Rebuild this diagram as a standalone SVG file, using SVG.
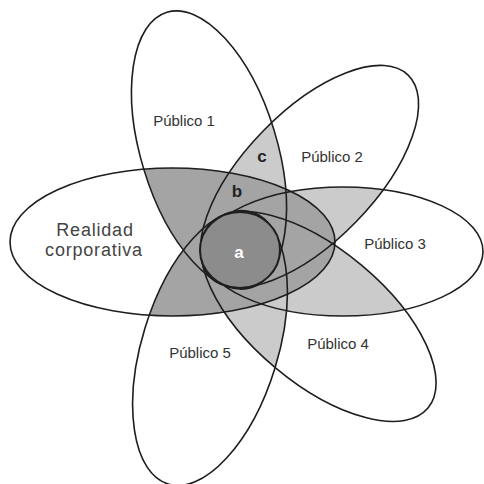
<svg xmlns="http://www.w3.org/2000/svg" width="484" height="484" viewBox="0 0 484 484">
<style>
.o{fill:none;stroke:#1e1e1e;stroke-width:1.6}
.lt{fill:#cbcbcb}
.dk{fill:#a4a4a4}
.lbl{font-family:"Liberation Sans",Arial,sans-serif;font-size:15px;fill:#333;text-anchor:middle}
.big{font-family:"Liberation Sans",Arial,sans-serif;font-size:18px;letter-spacing:0.8px;fill:#444;text-anchor:middle}
.let{font-family:"Liberation Sans",Arial,sans-serif;font-size:17px;font-weight:bold;fill:#222;text-anchor:middle}
</style>
<defs>
<ellipse id="P1" cx="209" cy="150" rx="144" ry="68" transform="rotate(73 209 150)"/>
<ellipse id="P2" cx="309.5" cy="176.5" rx="141.5" ry="65" transform="rotate(-45.8 309.5 176.5)"/>
<ellipse id="P3" cx="343" cy="251.5" rx="140" ry="64.5"/>
<ellipse id="P4" cx="318.5" cy="316.5" rx="142.7" ry="67" transform="rotate(39.9 318.5 316.5)"/>
<ellipse id="P5" cx="210" cy="348" rx="142.3" ry="68" transform="rotate(-72.9 210 348)"/>
<ellipse id="R" cx="172.5" cy="242" rx="162.5" ry="74"/>
<clipPath id="cAll">
<ellipse cx="209" cy="150" rx="144" ry="68" transform="rotate(73 209 150)"/>
<ellipse cx="309.5" cy="176.5" rx="141.5" ry="65" transform="rotate(-45.8 309.5 176.5)"/>
<ellipse cx="343" cy="251.5" rx="140" ry="64.5"/>
<ellipse cx="318.5" cy="316.5" rx="142.7" ry="67" transform="rotate(39.9 318.5 316.5)"/>
<ellipse cx="210" cy="348" rx="142.3" ry="68" transform="rotate(-72.9 210 348)"/>
</clipPath>
<clipPath id="cN1">
<ellipse cx="309.5" cy="176.5" rx="141.5" ry="65" transform="rotate(-45.8 309.5 176.5)"/>
<ellipse cx="343" cy="251.5" rx="140" ry="64.5"/>
<ellipse cx="318.5" cy="316.5" rx="142.7" ry="67" transform="rotate(39.9 318.5 316.5)"/>
<ellipse cx="210" cy="348" rx="142.3" ry="68" transform="rotate(-72.9 210 348)"/>
</clipPath>
<clipPath id="cN2">
<ellipse cx="343" cy="251.5" rx="140" ry="64.5"/>
<ellipse cx="318.5" cy="316.5" rx="142.7" ry="67" transform="rotate(39.9 318.5 316.5)"/>
<ellipse cx="210" cy="348" rx="142.3" ry="68" transform="rotate(-72.9 210 348)"/>
</clipPath>
<clipPath id="cN3">
<ellipse cx="318.5" cy="316.5" rx="142.7" ry="67" transform="rotate(39.9 318.5 316.5)"/>
<ellipse cx="210" cy="348" rx="142.3" ry="68" transform="rotate(-72.9 210 348)"/>
</clipPath>
<clipPath id="cN4">
<ellipse cx="210" cy="348" rx="142.3" ry="68" transform="rotate(-72.9 210 348)"/>
</clipPath>
</defs>
<rect width="484" height="484" fill="#fff"/>
<g id="fills">
<g clip-path="url(#cN1)"><use href="#P1" class="lt"/></g>
<g clip-path="url(#cN2)"><use href="#P2" class="lt"/></g>
<g clip-path="url(#cN3)"><use href="#P3" class="lt"/></g>
<g clip-path="url(#cN4)"><use href="#P4" class="lt"/></g>
<g clip-path="url(#cAll)"><use href="#R" class="dk"/></g>
</g>
<g id="realidad">
<use href="#R" class="o"/>
<text class="big" x="95" y="236">Realidad</text>
<text class="big" x="94" y="256">corporativa</text>
</g>
<g id="publico1">
<use href="#P1" class="o"/>
<text class="lbl" x="184" y="126">Público 1</text>
</g>
<g id="publico2">
<use href="#P2" class="o"/>
<text class="lbl" x="332" y="162">Público 2</text>
</g>
<g id="publico3">
<use href="#P3" class="o"/>
<text class="lbl" x="395" y="249">Público 3</text>
</g>
<g id="publico4">
<use href="#P4" class="o"/>
<text class="lbl" x="338" y="349">Público 4</text>
</g>
<g id="publico5">
<use href="#P5" class="o"/>
<text class="lbl" x="200" y="358">Público 5</text>
</g>
<g id="nucleo">
<ellipse cx="240" cy="250" rx="40" ry="38" fill="#8c8c8c" stroke="#1e1e1e" stroke-width="2"/>
<text class="let" x="239" y="258" style="fill:#fff">a</text>
</g>
<text class="let" x="237" y="197">b</text>
<text class="let" x="262" y="162">c</text>
</svg>
